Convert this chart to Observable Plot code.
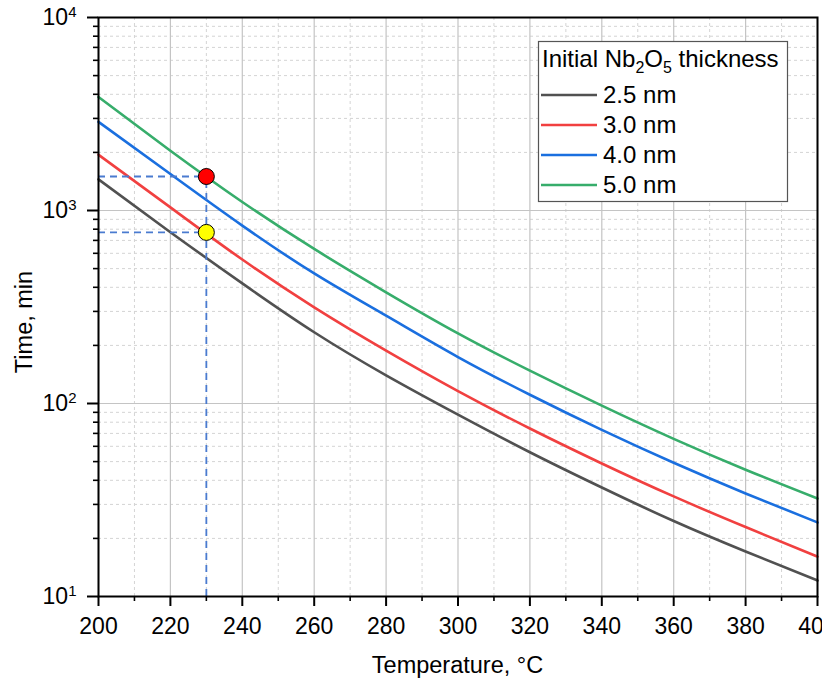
<!DOCTYPE html>
<html>
<head>
<meta charset="utf-8">
<script src="https://cdn.jsdelivr.net/npm/d3@7"></script>
<script src="https://cdn.jsdelivr.net/npm/@observablehq/plot@0.6"></script>
<style>
  html, body { margin: 0; padding: 0; background: white; overflow: hidden; }
  #chart svg { display: block; }
</style>
</head>
<body>
<div id="chart"></div>
<script>
// ---- data ----
const temps = [200, 220, 240, 260, 280, 300, 320, 340, 360, 380, 400];
const series = ["2.5 nm", "3.0 nm", "4.0 nm", "5.0 nm"];
const colors = ["#515151", "#F14040", "#1A6FDF", "#37AD6B"];
const time25 = [1450, 772, 419, 234, 140, 87.6, 55.9, 36.7, 24.6, 17.1, 12.1];
const time30 = [1945, 1038, 557, 315, 188, 116, 74.2, 48.9, 33.0, 22.9, 16.1];
const time40 = [2880, 1545, 835, 472, 285, 174, 111, 73.0, 49.3, 34.2, 24.2];
const time50 = [3870, 2040, 1107, 632, 377, 231, 148, 97.5, 65.6, 45.4, 32.2];
const guideTemp = 230;
const guideTimes = [1500, 770];
const guideFills = ["#FF0000", "#FFFF00"];
const xMajorTicks = [200, 220, 240, 260, 280, 300, 320, 340, 360, 380, 400];
const xMinorTicks = [210, 230, 250, 270, 290, 310, 330, 350, 370, 390];
const yMajorTicks = [10, 100, 1000, 10000];
const yMinorTicks = [20,30,40,50,60,70,80,90,200,300,400,500,600,700,800,900,2000,3000,4000,5000,6000,7000,8000,9000];

const allSeries = [time25, time30, time40, time50];
const rows = [];
allSeries.forEach((vals, si) => vals.forEach((v, i) => rows.push({T: temps[i], t: v, s: series[si]})));
const guidePts = guideTimes.map((t, i) => ({T: guideTemp, t, fill: guideFills[i]}));

const FONT = "'Liberation Sans', Arial, sans-serif";

const chart = Plot.plot({
  width: 822,
  height: 684,
  marginLeft: 98,
  marginRight: 5,
  marginTop: 17,
  marginBottom: 88,
  style: {fontFamily: FONT, fontSize: "23px", background: "white", overflow: "hidden", color: "black"},
  x: {domain: [200, 400]},
  y: {type: "log", domain: [10, 10000]},
  color: {domain: series, range: colors},
  marks: [
    Plot.gridX(xMinorTicks, {stroke: "#d4d4d4", strokeOpacity: 1, strokeDasharray: "3,3", strokeWidth: 1}),
    Plot.gridY(yMinorTicks, {stroke: "#d4d4d4", strokeOpacity: 1, strokeDasharray: "3,3", strokeWidth: 1}),
    Plot.gridX(xMajorTicks, {stroke: "#c4c4c4", strokeOpacity: 1, strokeWidth: 1.2}),
    Plot.gridY(yMajorTicks, {stroke: "#c4c4c4", strokeOpacity: 1, strokeWidth: 1.2}),
    Plot.line(rows, {x: "T", y: "t", z: "s", stroke: "s", strokeWidth: 2.6, curve: "natural"}),
    Plot.ruleY(guideTimes, {y: d => d, x1: 200, x2: guideTemp, stroke: "#4A7BD0", strokeWidth: 1.8, strokeDasharray: "7,5"}),
    Plot.ruleX([guideTemp], {x: d => d, y1: 10, y2: guideTimes[0], stroke: "#4A7BD0", strokeWidth: 1.8, strokeDasharray: "7,5"}),
    Plot.dot(guidePts, {x: "T", y: "t", r: 8, fill: "fill", stroke: "black", strokeWidth: 1}),
    Plot.axisX(xMajorTicks, {tickSize: 10, tickPadding: 11, strokeWidth: 2, label: null, tickFormat: d => String(d)}),
    Plot.axisX(xMinorTicks, {tickSize: 5, strokeWidth: 1.6, tickFormat: () => "", label: null}),
    Plot.axisY(yMajorTicks, {tickSize: 11, tickPadding: 11, strokeWidth: 2, label: null, tickFormat: d => String(Math.round(Math.log10(d)))}),
    Plot.axisY(yMinorTicks, {tickSize: 5, strokeWidth: 1.6, tickFormat: () => "", label: null}),
    Plot.frame({stroke: "black", strokeWidth: 2})
  ]
});

document.getElementById("chart").appendChild(chart);

const svg = d3.select(chart);

// tick label sizes
svg.selectAll('g[aria-label="x-axis tick label"]').attr("font-size", 23);
svg.selectAll('g[aria-label="y-axis tick label"]').attr("font-size", 23);

// superscript exponent tick labels on the y axis
svg.selectAll('g[aria-label="y-axis tick label"] text').each(function() {
  const exp = this.textContent;
  if (!exp) return;
  const t = d3.select(this);
  t.text(null);
  t.append("tspan").text("10");
  t.append("tspan").attr("dy", "-8px").attr("font-size", "15px").text(exp);
});

// axis titles
svg.append("text")
  .attr("x", (98 + 817) / 2).attr("y", 673)
  .attr("text-anchor", "middle")
  .attr("font-family", FONT).attr("font-size", 23.5).attr("fill", "black")
  .text("Temperature, °C");
svg.append("text")
  .attr("transform", "translate(32,322) rotate(-90)")
  .attr("text-anchor", "middle")
  .attr("font-family", FONT).attr("font-size", 23.5).attr("fill", "black")
  .text("Time, min");

// legend
const lg = svg.append("g").attr("font-family", FONT).attr("font-size", 24).attr("text-anchor", "start");
lg.append("rect").attr("x", 538.5).attr("y", 41.5).attr("width", 249).attr("height", 160)
  .attr("fill", "white").attr("stroke", "#555").attr("stroke-width", 1.2);
const title = lg.append("text").attr("x", 542).attr("y", 67).attr("fill", "black");
title.append("tspan").text("Initial Nb");
title.append("tspan").attr("dy", "6px").attr("font-size", "16px").text("2");
title.append("tspan").attr("dy", "-6px").text("O");
title.append("tspan").attr("dy", "6px").attr("font-size", "16px").text("5");
title.append("tspan").attr("dy", "-6px").text(" thickness");
series.forEach((s, i) => {
  const y = 95 + i * 30;
  lg.append("line").attr("x1", 541).attr("x2", 597).attr("y1", y).attr("y2", y)
    .attr("stroke", colors[i]).attr("stroke-width", 2.6);
  lg.append("text").attr("x", 603).attr("y", y).attr("dy", "0.35em").attr("fill", "black").text(s);
});
</script>
</body>
</html>
